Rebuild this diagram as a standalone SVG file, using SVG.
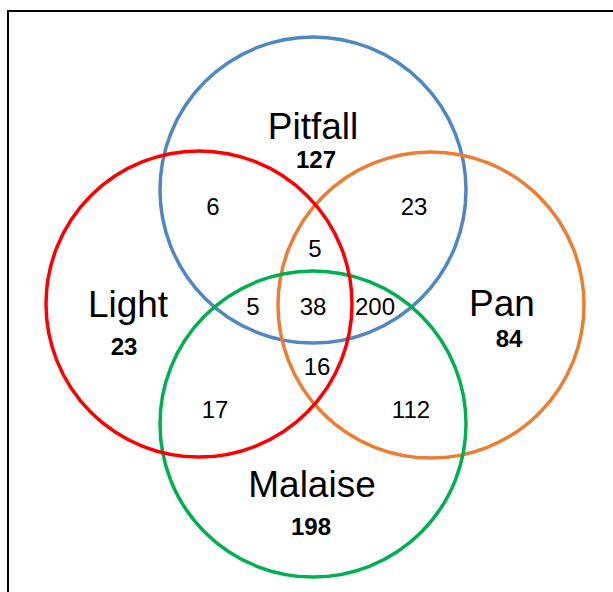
<svg xmlns="http://www.w3.org/2000/svg" width="613" height="592" viewBox="0 0 613 592">
<style>
.c{fill:none;stroke-width:3.5}
.lab{font-family:"Liberation Sans",Arial,sans-serif;font-size:37px;fill:#000;text-anchor:middle}
.tot{font-family:"Liberation Sans",Arial,sans-serif;font-size:24px;font-weight:bold;fill:#000;text-anchor:middle}
.n{font-family:"Liberation Sans",Arial,sans-serif;font-size:24px;fill:#000;text-anchor:middle}
</style>
<rect x="0" y="0" width="613" height="592" fill="#fff"/>
<rect x="8" y="11" width="620" height="600" fill="none" stroke="#000" stroke-width="2"/>
<g id="pitfall"><circle class="c" cx="313" cy="190" r="153" stroke="#4F86C4"/></g>
<g id="pan"><circle class="c" cx="431" cy="305" r="153" stroke="#ED7D31"/></g>
<g id="malaise"><circle class="c" cx="313" cy="424" r="153" stroke="#00B050"/></g>
<g id="light"><circle class="c" cx="199" cy="304" r="153" stroke="#FF0000"/></g>
<g id="labels">
<text class="lab" x="313" y="139">Pitfall</text>
<text class="tot" x="316" y="168">127</text>
<text class="lab" x="128" y="317">Light</text>
<text class="tot" x="124" y="355">23</text>
<text class="lab" x="502" y="316">Pan</text>
<text class="tot" x="509" y="347">84</text>
<text class="lab" x="312" y="497">Malaise</text>
<text class="tot" x="311" y="535">198</text>
<text class="n" x="213" y="215">6</text>
<text class="n" x="414" y="215">23</text>
<text class="n" x="315" y="257">5</text>
<text class="n" x="253" y="315">5</text>
<text class="n" x="313" y="315">38</text>
<text class="n" x="375" y="315">200</text>
<text class="n" x="317" y="375">16</text>
<text class="n" x="215" y="418">17</text>
<text class="n" x="411" y="418">112</text>
</g>
</svg>
